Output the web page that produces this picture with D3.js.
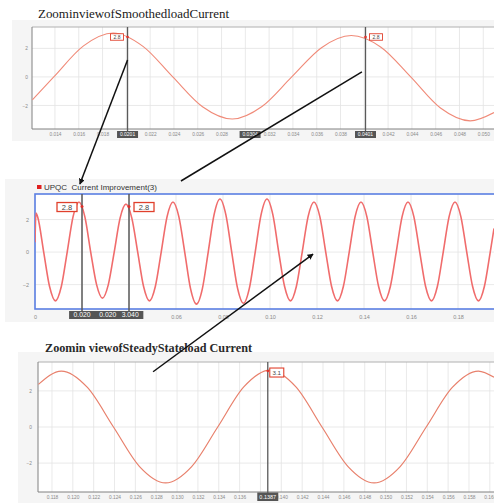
<!DOCTYPE html>
<html><head><meta charset="utf-8">
<script src="https://cdn.jsdelivr.net/npm/d3@7/dist/d3.min.js"></script>
<style>body{margin:0;background:#fff}svg{display:block}</style>
</head><body>
<svg id="c" width="494" height="503"></svg>
<script>
// ---------------- DATA ----------------
const yTicks = [-2, 0, 2];

// Panel 1 : Zoom in view of smoothed load current
const p1Title = "ZoominviewofSmoothedloadCurrent";
const p1Time = [0.0121,0.0139,0.0164,0.0189,0.0214,0.0239,0.0264,0.0289,0.0314,0.0339,0.0364,0.0389,0.0414,0.0439,0.0464,0.0489,0.0509];
const p1Current = [-1.6,0,2.18,3.08,2.14,0,-2.09,-2.95,-2.07,0,2.05,2.9,2.08,0,-2.18,-3.08,-2.5];
const p1Grid = [0.014,0.016,0.018,0.020,0.022,0.024,0.026,0.028,0.030,0.032,0.034,0.036,0.038,0.040,0.042,0.044,0.046,0.048,0.050];
const p1XLabels = [0.014,0.016,0.018,0.022,0.024,0.026,0.028,0.032,0.034,0.036,0.038,0.042,0.044,0.046,0.048,0.050];
const p1Markers = [{t:0.0201, v:2.8, label:"2.8"}, {t:0.0401, v:2.8, label:"2.8"}];
const p1Highlights = [{t:0.0201, text:"0.0201"}, {t:0.0304, text:"0.0304"}, {t:0.0401, text:"0.0401"}];

// Panel 2 : UPQC Current Improvement(3)
const p2Legend = "UPQC  Current Improvement(3)";
const p2Time = [0,0.0004,0.0012,0.0037,0.0062,0.0087,0.0112,0.0137,0.0162,0.0187,0.0212,0.0237,0.0262,0.0287,0.0312,0.0337,0.0362,0.0387,0.0412,0.0437,0.0462,0.0487,0.0512,0.0537,0.0562,0.0587,0.0612,0.0637,0.0662,0.0687,0.0712,0.0737,0.0762,0.0787,0.0812,0.0837,0.0862,0.0887,0.0912,0.0937,0.0962,0.0987,0.1012,0.1037,0.1062,0.1087,0.1112,0.1137,0.1162,0.1187,0.1212,0.1237,0.1262,0.1287,0.1312,0.1337,0.1362,0.1387,0.1412,0.1437,0.1462,0.1487,0.1512,0.1537,0.1562,0.1587,0.1612,0.1637,0.1662,0.1687,0.1712,0.1737,0.1762,0.1787,0.1812,0.1837,0.1862,0.1887,0.1912,0.1937,0.1953];
const p2Current = [0.6,2.4,2.12,0,-2.12,-3.0,-2.12,0,2.18,3.08,2.18,0,-2.0,-2.83,-2.0,0,2.09,2.95,2.09,0,-2.12,-3.0,-2.12,0,2.18,3.08,2.18,0,-2.26,-3.2,-2.26,0,2.3,3.26,2.3,0,-2.23,-3.15,-2.23,0,2.3,3.26,2.3,0,-2.12,-3.0,-2.12,0,2.18,3.08,2.18,0,-2.12,-3.0,-2.12,0,2.18,3.08,2.18,0,-2.12,-3.0,-2.12,0,2.18,3.08,2.18,0,-2.12,-3.0,-2.12,0,2.18,3.08,2.18,0,-2.12,-3.0,-2.12,0,1.45];
const p2Grid = [0,0.02,0.04,0.06,0.08,0.10,0.12,0.14,0.16,0.18];
const p2XLabels = [0,0.06,0.08,0.10,0.12,0.14,0.16,0.18];
const p2Markers = [{t:0.02, v:2.8, label:"2.8"}, {t:0.04, v:2.8, label:"2.8"}];
const p2HighlightSpan = [0.0145, 0.0461];
const p2Highlights = [{t:0.02, text:"0.020"}, {t:0.031, text:"0.020"}, {t:0.0405, text:"3.040"}];

// Panel 3 : Zoom in view of steady state load current
const p3Title = "Zoomin viewofSteadyStateload Current";
const p3Time = [0.1167,0.1189,0.1214,0.1239,0.1264,0.1289,0.1314,0.1339,0.1364,0.1389,0.1414,0.1439,0.1464,0.1489,0.1514,0.1539,0.1564,0.1589,0.1604];
const p3Current = [2.36,3.1,2.19,0,-2.19,-3.1,-2.19,0,2.22,3.15,2.22,0,-2.19,-3.1,-2.19,0,2.19,3.1,2.76];
const p3Grid = [0.118,0.120,0.122,0.124,0.126,0.128,0.130,0.132,0.134,0.136,0.138,0.140,0.142,0.144,0.146,0.148,0.150,0.152,0.154,0.156,0.158,0.160];
const p3XLabels = [0.118,0.120,0.122,0.124,0.126,0.128,0.130,0.132,0.134,0.136,0.140,0.142,0.144,0.146,0.148,0.150,0.152,0.154,0.156,0.158,0.160];
const p3Markers = [{t:0.1387, v:3.1, label:"3.1"}];
const p3Highlights = [{t:0.1387, text:"0.1387"}];

// annotation arrows (data coordinates in the panels they join)
const arrows = [
  {from:{p:1, t:0.0201, v:1.19}, to:{p:2, t:0.0191, v:4.18}, head:true},
  {from:{p:1, t:0.0398, v:0.35}, to:{p:2, t:0.0621, v:4.37}, head:false},
  {from:{p:3, t:0.1277, v:3.06}, to:{p:2, t:0.1183, v:-0.12}, head:true}
];

// ---------------- DRAWING ----------------
const svg = d3.select("#c");
const defs = svg.append("defs");
defs.append("marker").attr("id","ah").attr("viewBox","0 0 10 10").attr("refX",9).attr("refY",5)
  .attr("markerWidth",6).attr("markerHeight",6).attr("orient","auto-start-reverse").attr("markerUnits","userSpaceOnUse")
  .append("path").attr("d","M0,0L10,5L0,10z").attr("fill","#111");

const scales = {};
function panel(cfg){
  const x = d3.scaleLinear().domain(cfg.xDomain).range([cfg.left, cfg.right]);
  const y = d3.scaleLinear().domain(cfg.yDomain).range([cfg.bottom, cfg.top]);
  scales[cfg.id] = {x, y};
  const g = svg.append("g");
  g.append("rect").attr("x",cfg.bg[0]).attr("y",cfg.bg[1]).attr("width",cfg.bg[2]).attr("height",cfg.bg[3]).attr("fill","#f5f5f5");
  g.append("rect").attr("x",cfg.left).attr("y",cfg.top).attr("width",cfg.right-cfg.left).attr("height",cfg.bottom-cfg.top).attr("fill","#fff");
  defs.append("clipPath").attr("id","clip"+cfg.id).append("rect")
    .attr("x",cfg.left).attr("y",cfg.top).attr("width",cfg.right-cfg.left).attr("height",cfg.bottom-cfg.top);
  // grid
  g.selectAll(null).data(cfg.grid).join("line")
    .attr("x1",d=>x(d)).attr("x2",d=>x(d)).attr("y1",cfg.top).attr("y2",cfg.bottom)
    .attr("stroke","#e3e3e3").attr("stroke-width",0.8);
  g.selectAll(null).data(yTicks).join("line")
    .attr("x1",cfg.left).attr("x2",cfg.right).attr("y1",d=>y(d)).attr("y2",d=>y(d))
    .attr("stroke","#e3e3e3").attr("stroke-width",0.8);
  // axes
  const ax = g.append("g").attr("transform",`translate(0,${cfg.bottom})`)
    .call(d3.axisBottom(x).tickValues(cfg.xLabels).tickFormat(cfg.fmt).tickSize(0).tickPadding(cfg.xPad));
  ax.select(".domain").remove();
  ax.selectAll("text").attr("font-size",cfg.tickFont).attr("fill","#8a8a8a").attr("font-family","Liberation Sans, Arial, sans-serif");
  const ay = g.append("g").attr("transform",`translate(${cfg.left},0)`)
    .call(d3.axisLeft(y).tickValues(yTicks).tickFormat(d3.format("d")).tickSize(0).tickPadding(cfg.yPad));
  ay.select(".domain").remove();
  ay.selectAll("text").attr("font-size",cfg.tickFont).attr("fill","#8a8a8a").attr("font-family","Liberation Sans, Arial, sans-serif");
  // frame
  if (cfg.blue){
    g.append("rect").attr("x",cfg.left).attr("y",cfg.top).attr("width",cfg.right-cfg.left+4).attr("height",cfg.bottom-cfg.top)
      .attr("fill","none").attr("stroke","#5b7fe3").attr("stroke-width",1.6);
  } else {
    g.append("line").attr("x1",cfg.left).attr("x2",cfg.right).attr("y1",cfg.top).attr("y2",cfg.top).attr("stroke","#b0b0b0").attr("stroke-width",1);
    g.append("line").attr("x1",cfg.left).attr("x2",cfg.left).attr("y1",cfg.top).attr("y2",cfg.bottom).attr("stroke","#808080").attr("stroke-width",1);
    g.append("line").attr("x1",cfg.left).attr("x2",cfg.right).attr("y1",cfg.bottom).attr("y2",cfg.bottom).attr("stroke","#808080").attr("stroke-width",1);
  }
  // curve
  const line = d3.line().x(d=>x(d[0])).y(d=>y(d[1])).curve(d3.curveMonotoneX);
  g.append("path").attr("clip-path",`url(#clip${cfg.id})`).datum(d3.zip(cfg.time, cfg.current))
    .attr("d",line).attr("fill","none").attr("stroke",cfg.color).attr("stroke-width",cfg.lw);
  // marker lines
  cfg.markers.forEach(m=>{
    g.append("line").attr("x1",x(m.t)).attr("x2",x(m.t)).attr("y1",cfg.top).attr("y2",cfg.bottom+cfg.markExt)
      .attr("stroke","#5a5a5a").attr("stroke-width",cfg.mlw);
  });
  // highlighted x labels
  if (cfg.span){
    const x0 = x(cfg.span[0]), x1 = x(cfg.span[1]);
    g.append("rect").attr("x",x0).attr("y",cfg.bottom+cfg.hlY).attr("width",x1-x0).attr("height",cfg.hlH).attr("fill","#555");
  }
  cfg.highlights.forEach(h=>{
    if (!cfg.span){
      g.append("rect").attr("x",x(h.t)-cfg.hlW/2).attr("y",cfg.bottom+cfg.hlY).attr("width",cfg.hlW).attr("height",cfg.hlH).attr("fill","#555");
    }
    g.append("text").attr("x",x(h.t)).attr("y",cfg.bottom+cfg.hlY+cfg.hlH-cfg.hlH*0.22)
      .attr("text-anchor","middle").attr("font-size",cfg.hlFont).attr("fill","#fff")
      .attr("font-family","Liberation Sans, Arial, sans-serif").text(h.text);
  });
  // marker labels
  cfg.markers.forEach((m,i)=>{
    const side = cfg.sides[i];
    const px = x(m.t), py = y(m.v);
    const bx = side==="left" ? px - cfg.lblGap - cfg.lblW : px + cfg.lblGap;
    g.append("rect").attr("x",bx).attr("y",py-cfg.lblH/2+cfg.lblDy).attr("width",cfg.lblW).attr("height",cfg.lblH)
      .attr("fill","#fff").attr("stroke","#e0402c").attr("stroke-width",cfg.lblSw);
    g.append("text").attr("x",bx+cfg.lblW/2).attr("y",py+cfg.lblDy+cfg.lblFont*0.35)
      .attr("text-anchor","middle").attr("font-size",cfg.lblFont).attr("fill","#444")
      .attr("font-family","Liberation Sans, Arial, sans-serif").text(m.label);
    g.append("circle").attr("cx",px).attr("cy",py).attr("r",cfg.dotR).attr("fill","#e0302a");
  });
  return g;
}

const f3 = d3.format(".3f");
const f2 = d=> d===0 ? "0" : d3.format(".2f")(d);

panel({id:1, left:32, right:494, top:27, bottom:129, bg:[12,20,482,121],
  xDomain:[0.01207,0.0509], yDomain:[-3.65,3.5], grid:p1Grid, xLabels:p1XLabels, fmt:f3, xPad:4, yPad:4, tickFont:4.8,
  time:p1Time, current:p1Current, color:"#f08a78", lw:1.1,
  markers:p1Markers, sides:["left","right"], markExt:2, mlw:1.3,
  highlights:p1Highlights, hlW:21, hlH:7, hlY:2, hlFont:5,
  lblW:13, lblH:6.5, lblGap:4, lblDy:0, lblFont:5, lblSw:0.9, dotR:1.3});

panel({id:2, left:35, right:494, top:194, bottom:309, bg:[5,179,489,143],
  xDomain:[0,0.1953], yDomain:[-3.5,3.57], grid:p2Grid, xLabels:p2XLabels, fmt:f2, xPad:6, yPad:6, tickFont:5.5,
  time:p2Time, current:p2Current, color:"#f06c6c", lw:1.6, blue:true,
  markers:p2Markers, sides:["left","right"], markExt:2, mlw:1.5,
  highlights:p2Highlights, span:p2HighlightSpan, hlW:0, hlH:8, hlY:2, hlFont:6.8,
  lblW:20, lblH:9, lblGap:5, lblDy:0.5, lblFont:7.5, lblSw:1.3, dotR:1.5});

panel({id:3, left:38, right:494, top:362, bottom:492, bg:[18,352,476,151],
  xDomain:[0.11666,0.1604], yDomain:[-3.6,3.6], grid:p3Grid, xLabels:p3XLabels, fmt:f3, xPad:4, yPad:6, tickFont:4.8,
  time:p3Time, current:p3Current, color:"#e8806c", lw:1.2,
  markers:p3Markers, sides:["right"], markExt:1, mlw:1.3,
  highlights:p3Highlights, hlW:21, hlH:8.5, hlY:0.5, hlFont:5.5,
  lblW:14, lblH:9, lblGap:2, lblDy:1.5, lblFont:6.2, lblSw:1.1, dotR:1.3});

// titles & legend
svg.append("text").attr("x",38).attr("y",17.5).attr("font-family","Liberation Serif, Times New Roman, serif")
  .attr("font-size",12.5).attr("fill","#1a1a1a").attr("textLength",191).attr("lengthAdjust","spacingAndGlyphs").text(p1Title);
svg.append("text").attr("x",45).attr("y",351.5).attr("font-family","Liberation Serif, Times New Roman, serif")
  .attr("font-size",12.5).attr("font-weight","bold").attr("fill","#2a2a2a").attr("textLength",207).attr("lengthAdjust","spacingAndGlyphs").text(p3Title);
svg.append("rect").attr("x",37).attr("y",185).attr("width",4.5).attr("height",4).attr("fill","#e02020");
svg.append("text").attr("x",44).attr("y",190).attr("font-family","Liberation Sans, Arial, sans-serif")
  .attr("font-size",8).attr("fill","#333").style("white-space","pre").text(p2Legend);

// arrows
arrows.forEach(a=>{
  const s = scales[a.from.p], e = scales[a.to.p];
  svg.append("line").attr("x1",s.x(a.from.t)).attr("y1",s.y(a.from.v))
    .attr("x2",e.x(a.to.t)).attr("y2",e.y(a.to.v))
    .attr("stroke","#111").attr("stroke-width",1.5)
    .attr("marker-end", a.head ? "url(#ah)" : null);
});
</script>
</body></html>
